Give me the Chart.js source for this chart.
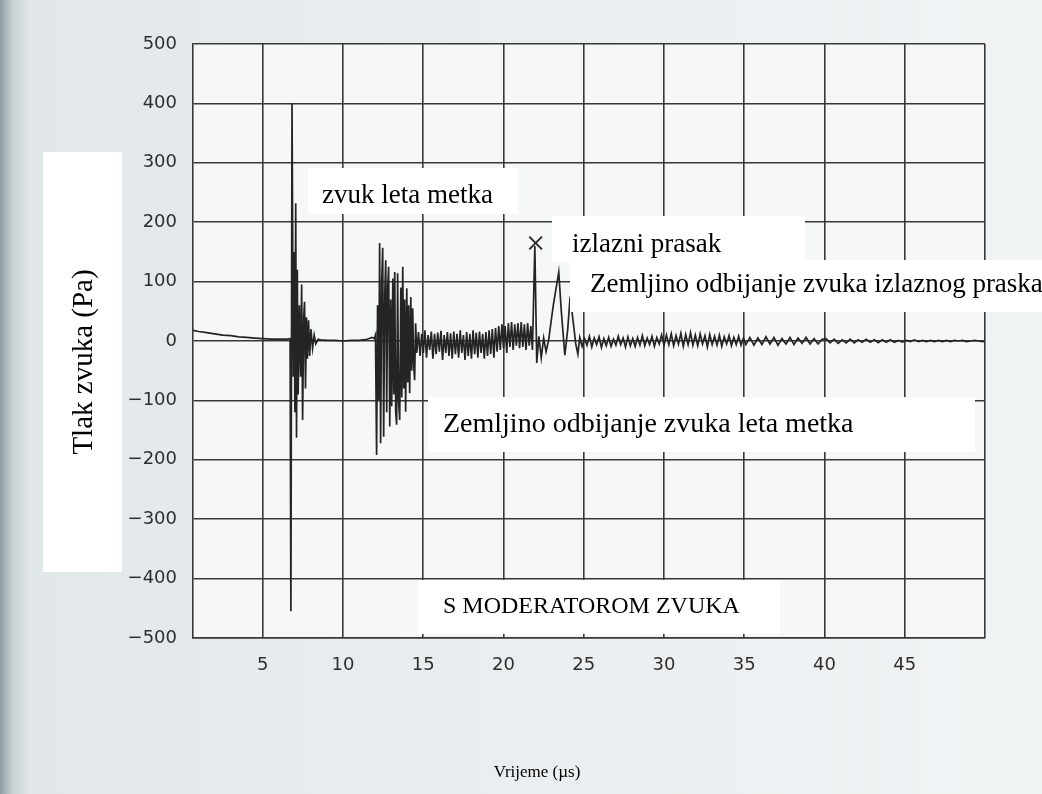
<!DOCTYPE html>
<html>
<head>
<meta charset="utf-8">
<script src="https://cdn.jsdelivr.net/npm/chart.js@4.4.1/dist/chart.umd.min.js"></script>
<style>
  html, body { margin: 0; padding: 0; background: #e9eef0; }
  canvas { display: block; }
</style>
</head>
<body>
<canvas id="myChart" width="1042" height="794"></canvas>
<script>
// vrijeme (µs) i tlak zvuka (Pa), očitano s grafa
const times = [
  0.65, 1, 1.5, 2, 2.5, 3, 3.5, 4, 4.5, 5, 5.5, 6, 6.5, 6.7,
  6.75, 6.82, 6.9, 6.95, 7.0, 7.05, 7.1, 7.15, 7.2, 7.28, 7.35, 7.42, 7.48, 7.55, 7.6, 7.66, 7.72, 7.78, 7.85, 7.92, 8.0, 8.1, 8.2, 8.3, 8.45,
  8.6, 9, 9.5, 10, 10.5, 11, 11.5, 11.8, 11.95,
  12.02, 12.09, 12.15, 12.22, 12.28, 12.34, 12.41, 12.47, 12.53, 12.6, 12.66, 12.72, 12.78, 12.84, 12.91, 12.97, 13.03, 13.1, 13.16, 13.22, 13.28, 13.34, 13.4, 13.46, 13.53, 13.6, 13.66, 13.72, 13.78, 13.84, 13.9, 13.97, 14.03, 14.09, 14.15, 14.22, 14.28, 14.34, 14.4, 14.46, 14.52, 14.59,
  14.7, 14.8, 14.9, 15.0, 15.1, 15.2, 15.3, 15.4, 15.5, 15.6, 15.7, 15.8, 15.9, 16.0, 16.1, 16.2, 16.3, 16.4, 16.5, 16.6, 16.7, 16.8, 16.9, 17.0, 17.1, 17.2, 17.3, 17.4, 17.5, 17.6, 17.7, 17.8, 17.9, 18.0, 18.1, 18.2, 18.3, 18.4, 18.5, 18.6, 18.7, 18.8, 18.9, 19.0, 19.1, 19.2, 19.3, 19.4, 19.5, 19.6, 19.7, 19.8, 19.9, 20.0, 20.1, 20.2, 20.3, 20.4, 20.5, 20.6, 20.7, 20.8, 20.9, 21.0, 21.1, 21.2, 21.3, 21.4, 21.5, 21.6, 21.7,
  21.8, 21.95, 22.07, 22.2, 22.35, 22.5, 22.65, 22.8, 23.1, 23.44, 23.6, 23.82, 24.0, 24.15, 24.35, 24.5, 24.63,
  24.75, 24.9, 25.05, 25.2, 25.35, 25.5, 25.65, 25.8, 25.95, 26.1, 26.25, 26.4, 26.55, 26.7, 26.85, 27.0, 27.15, 27.3, 27.45, 27.6, 27.75, 27.9, 28.05, 28.2, 28.35, 28.5, 28.65, 28.8, 28.95, 29.1, 29.25, 29.4, 29.55, 29.7, 29.85, 30.0,
  30.15, 30.3, 30.45, 30.6, 30.75, 30.9, 31.05, 31.2, 31.35, 31.5, 31.65, 31.8, 31.95, 32.1, 32.25, 32.4, 32.55, 32.7, 32.85, 33.0, 33.15, 33.3, 33.45, 33.6, 33.75, 33.9, 34.05, 34.2, 34.35, 34.5, 34.65, 34.8, 34.95, 35.1,
  35.35, 35.6, 35.85, 36.1, 36.35, 36.6, 36.85, 37.1, 37.35, 37.6, 37.85, 38.1, 38.35, 38.6, 38.85, 39.1, 39.35, 39.6, 39.85,
  40.1, 40.35, 40.6, 40.85, 41.1, 41.35, 41.6, 41.85, 42.1, 42.35, 42.6, 42.85, 43.1, 43.35, 43.6, 43.85, 44.1, 44.35, 44.6, 44.85,
  45.1, 45.35, 45.6, 45.85, 46.1, 46.35, 46.6, 46.85, 47.1, 47.35, 47.6, 47.85, 48.1, 48.35, 48.6, 48.85, 49.1, 49.35, 49.6, 49.85, 50
];
const pressure = [
  18, 16, 14, 12, 10, 9, 7, 6, 5, 4, 3, 3, 3, 4,
  -455, 400, -60, 150, -120, 232, -163, 120, -90, 60, -60, 95, -133, 40, 66, -80, 40, -30, 35, -25, 20, -12, 10, -5, 3,
  2, 1, 1, 0, 1, 1, 3, 6, 4,
  10, -192, 60, -100, 165, -172, 100, 157, -161, 80, 136, -120, 90, 125, -144, 70, -110, 105, -90, 116, -120, -141, 114, -100, -133, 90, -95, 125, -80, 70, -119, 89, -70, 60, -88, 74, -50, 55, -40, -66, 30, -20,
  15, -25, 12, -20, 18, -28, 10, -15, 16, -30, 12, -22, 14, -18, 17, -32, 10, -20, 15, -25, 13, -30, 16, -22, 12, -28, 18, -20, 10, -32, 15, -25, 12, -30, 18, -22, 14, -28, 16, -20, 12, -30, 15, -25, 18, -22, 20, -28, 22, -18, 25, -15, 28, -12, 25, -20, 30, -10, 32, -15, 28, -8, 30, -12, 32, -10, 28, -15, 30, -8, 25,
  -15, 160, -37, 8, -28, 5, -18, 0, 60, 116, 50, -24, 20, 75, 30, -5, -22,
  6, -9, 4, -7, 8, -10, 5, -6, 7, -11, 4, -8, 6, -9, 3, -7, 8, -6, 5, -10, 7, -8, 4, -9, 6, -7, 9, -8, 5, -6, 8, -9, 6, -5, 10, -7,
  10, -6, 12, -8, 9, -5, 13, -9, 11, -6, 14, -7, 10, -8, 12, -5, 9, -10, 11, -6, 8, -7, 10, -9, 7, -5, 9, -8, 6, -6, 8, -7, 5, -6,
  6, -7, 5, -6, 7, -5, 6, -7, 4, -5, 6, -6, 5, -4, 6, -5, 4, -5, 3,
  4, -3, 3, -4, 2, -3, 3, -3, 2, -2, 3, -2, 2, -3, 2, -2, 2, -2, 1, -2,
  1, -1, 2, -1, 1, -1, 1, -1, 1, -1, 1, -1, 1, 0, 1, -1, 0, 1, 0, -1, 0
];
// oznaka X na vrhu izlaznog praska
const markerTime = [22.0];
const markerPressure = [165];
const xTicks = [5, 10, 15, 20, 25, 30, 35, 40, 45, 50];
const yTicks = [-500, -400, -300, -200, -100, 0, 100, 200, 300, 400, 500];

const gridColor = '#383838';
const serif = '"Liberation Serif", "Times New Roman", serif';

// pozadina skena i bijeli okviri s natpisima
const overlay = {
  id: 'overlay',
  beforeDraw(chart) {
    const c = chart.ctx;
    const g = c.createLinearGradient(0, 0, 1042, 0);
    g.addColorStop(0, '#8f9da2');
    g.addColorStop(0.012, '#c8d2d5');
    g.addColorStop(0.03, '#e2e8ea');
    g.addColorStop(1, '#f1f4f5');
    c.save();
    c.fillStyle = g;
    c.fillRect(0, 0, chart.width, chart.height);
    const a = chart.chartArea;
    c.fillStyle = '#f6f8f8';
    c.fillRect(a.left, a.top, a.right - a.left, a.bottom - a.top);
    c.restore();
  },
  afterDraw(chart) {
    const c = chart.ctx;
    c.save();
    c.fillStyle = '#ffffff';
    c.fillRect(43, 152, 79, 420);
    c.fillRect(308, 168, 210, 46);
    c.fillRect(552, 216, 253, 46);
    c.fillRect(570, 262, 472, 50);
    c.fillRect(428, 397, 547, 55);
    c.fillRect(418, 580, 362, 54);

    c.fillStyle = '#000000';
    c.textBaseline = 'middle';
    c.textAlign = 'left';
    c.font = '27px ' + serif;
    c.fillText('zvuk leta metka', 322, 196);
    c.fillText('izlazni prasak', 572, 245);
    c.fillStyle = '#ffffff';
    c.fillRect(570, 260, 472, 10);
    c.fillStyle = '#000000';
    c.fillText('Zemljino odbijanje zvuka izlaznog praska', 590, 285);
    c.font = '28px ' + serif;
    c.fillText('Zemljino odbijanje zvuka leta metka', 443, 425);
    c.font = '24px ' + serif;
    c.fillText('S MODERATOROM ZVUKA', 443, 607);
    c.font = '17px ' + serif;
    c.textAlign = 'center';
    c.fillText('Vrijeme (\u00b5s)', 537, 773);

    c.translate(84, 362);
    c.rotate(-Math.PI / 2);
    c.font = '29px ' + serif;
    c.fillText('Tlak zvuka (Pa)', 0, 0);
    c.restore();
  }
};

const ctx = document.getElementById('myChart').getContext('2d');
const n = Math.min(times.length, pressure.length);

const myChart = new Chart(ctx, {
  type: 'line',
  data: {
    datasets: [{
      label: 'Tlak zvuka',
      data: times.slice(0, n).map((t, i) => ({ x: t, y: pressure[i] })),
      borderColor: '#242424',
      borderWidth: 1.7,
      pointRadius: 0,
      tension: 0,
      fill: false
    }, {
      label: 'Izlazni prasak',
      data: markerTime.map((t, i) => ({ x: t, y: markerPressure[i] })),
      showLine: false,
      pointStyle: 'crossRot',
      pointRadius: 9,
      pointBorderWidth: 2,
      pointBorderColor: '#2a2a2a'
    }]
  },
  options: {
    responsive: false,
    animation: false,
    devicePixelRatio: 1,
    layout: { padding: { left: 0, top: 44, right: 57, bottom: 0 } },
    plugins: { legend: { display: false }, tooltip: { enabled: false } },
    scales: {
      x: {
        type: 'linear',
        min: 0.65,
        max: 50,
        afterBuildTicks: s => { s.ticks = xTicks.map(v => ({ value: v })); },
        afterFit: s => { s.height = 156; },
        grid: { color: gridColor, lineWidth: 1.6, drawTicks: false },
        border: { color: gridColor, width: 1.6 },
        ticks: {
          padding: 17,
          color: '#2e2e2e',
          font: { family: '"DejaVu Sans", sans-serif', size: 18 },
          maxRotation: 0,
          callback: v => (v === 50 ? '' : v)
        }
      },
      y: {
        min: -500,
        max: 500,
        afterBuildTicks: s => { s.ticks = yTicks.map(v => ({ value: v })); },
        afterFit: s => { s.width = 193; },
        grid: { color: gridColor, lineWidth: 1.6, drawTicks: false },
        border: { color: gridColor, width: 1.6 },
        ticks: {
          padding: 16,
          color: '#2e2e2e',
          font: { family: '"DejaVu Sans", sans-serif', size: 18 },
          callback: v => (v < 0 ? '\u2212' + Math.abs(v) : v)
        }
      }
    }
  },
  plugins: [overlay]
});
</script>
</body>
</html>
